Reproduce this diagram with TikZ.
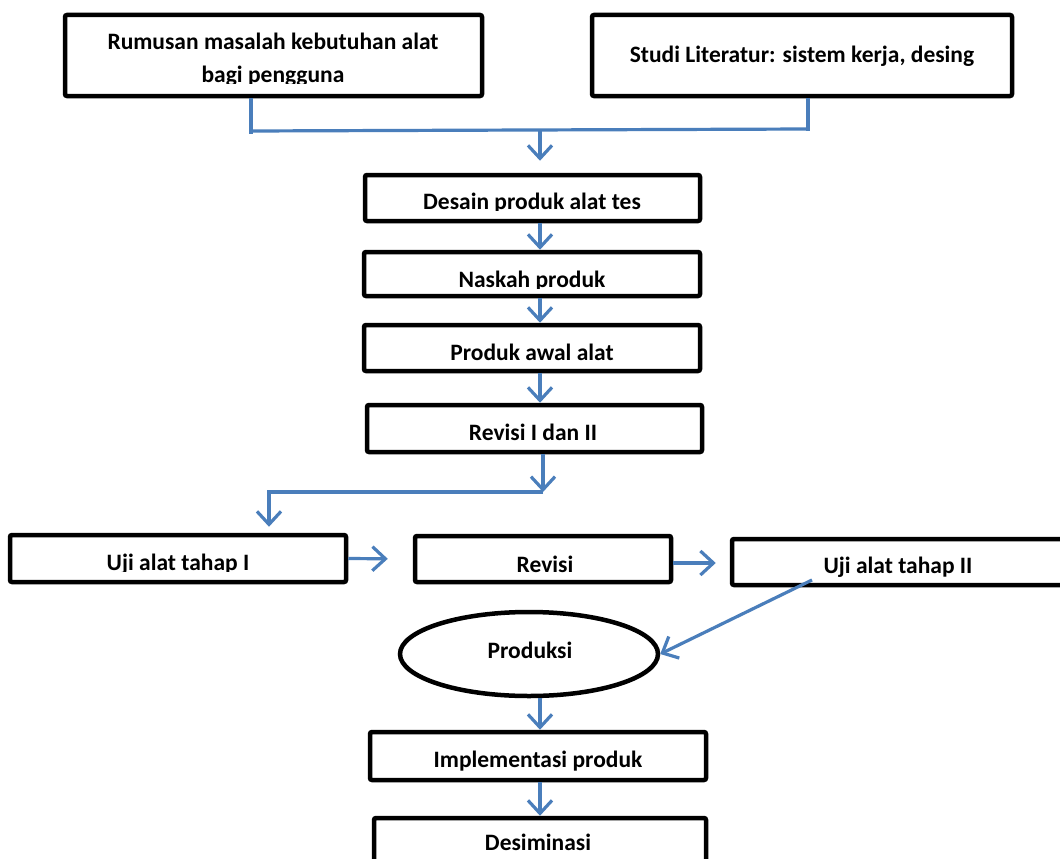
\documentclass[tikz,border=0pt]{standalone}
\usepackage{fontspec}
\setmainfont{Carlito}
\usetikzlibrary{arrows.meta,shapes.geometric}
\definecolor{lineblue}{HTML}{4A7EBB}
\begin{document}
\begin{tikzpicture}[x=1pt,y=-1pt,
  box/.style={draw=black,line width=4.5pt,rounded corners=2pt,inner sep=0pt,fill=white},
  oval/.style={ellipse,draw=black,line width=4.5pt,inner sep=0pt,fill=white},
  lbl/.style={font=\fontsize{23.5}{32}\selectfont\bfseries,inner sep=0pt,anchor=base},
  bl/.style={draw=lineblue,line width=3.2pt},
  arr/.style={bl,-{Straight Barb[length=13pt,width=24pt]}}]
\clip (0,0) rectangle (1060,859);
\fill[white] (0,0) rectangle (1060,859);

% boxes
\node[box,minimum width=417pt,minimum height=81pt] (r1) at (273.5,55.5) {};
\node[box,minimum width=420pt,minimum height=81pt] (r2) at (802,55.5) {};
\node[box,minimum width=335pt,minimum height=46pt] (r3) at (532.5,198) {};
\node[box,minimum width=336pt,minimum height=44pt] (r4) at (532,274) {};
\node[box,minimum width=336pt,minimum height=46pt] (r5) at (532,348) {};
\node[box,minimum width=335pt,minimum height=47pt] (r6) at (534.5,428.5) {};
\node[box,minimum width=336pt,minimum height=47pt] (r7) at (178,558.5) {};
\node[box,minimum width=256pt,minimum height=46pt] (r8) at (543,559) {};
\node[box,minimum width=346pt,minimum height=46pt] (r9) at (905,562) {};
\node[oval,minimum width=258pt,minimum height=84pt] (pr) at (529,654) {};
\node[box,minimum width=336pt,minimum height=48pt] (r10) at (538,756) {};
\node[box,minimum width=332pt,minimum height=50pt] (r11) at (540,843) {};

% labels
\node[lbl] (t1a) at (273,50) {Rumusan masalah kebutuhan alat};
\begin{scope}
  \clip (65,15) rectangle (482,83);
  \node[lbl] (t1b) at (273,82) {bagi pengguna};
\end{scope}
\node[lbl] (t2) at (802,63) {Studi Literatur: sistem kerja, desing};
\begin{scope}
  \clip (365,175) rectangle (700,210);
  \node[lbl] (t3) at (532,209) {Desain produk alat tes};
\end{scope}
\begin{scope}
  \clip (365,252) rectangle (700,288);
  \node[lbl] (t4) at (532,287) {Naskah produk};
\end{scope}
\node[lbl] (t5) at (532,360) {Produk awal alat};
\node[lbl] (t6) at (533,440) {Revisi I dan II};
\begin{scope}
  \clip (10,535) rectangle (346,571);
  \node[lbl] (t7) at (178,570) {Uji alat tahap I};
\end{scope}
\node[lbl] (t8) at (545,572) {Revisi};
\node[lbl] (t9) at (898,573) {Uji alat tahap II};
\node[lbl] (tp) at (530,658) {Produksi};
\begin{scope}
  \clip (370,732) rectangle (706,770);
  \node[lbl] (t10) at (538,767) {Implementasi produk};
\end{scope}
\begin{scope}
  \clip (374,818) rectangle (706,852);
  \node[lbl] (t11) at (538,850) {Desiminasi};
\end{scope}

% connector coordinates
\coordinate (ax) at (540,0);
\coordinate (jl) at (251,134);
\coordinate (jr) at (808,131);
\coordinate (hl) at (251,131);
\coordinate (hr) at (808,129);
\coordinate (jm) at (540,130);
\coordinate (kx) at (543,0);
\coordinate (k1) at (543,492);
\coordinate (k2) at (269,492);
\coordinate (d1) at (812,580);
\coordinate (hy) at (0,563);

% connectors
\draw[bl] (r1.south -| jl) -- (jl);
\draw[bl] (r2.south -| jr) -- (jr);
\draw[bl] (hl) -- (hr);
\draw[arr,shorten >=12pt] (jm) -- (r3.north -| jm);
\draw[arr] (r3.south -| ax) -- (r4.north -| ax);
\draw[arr] (r4.south -| ax) -- (r5.north -| ax);
\draw[arr] (r5.south -| ax) -- (r6.north -| ax);
\draw[arr] (r6.south -| kx) -- (k1);
\draw[arr,shorten >=6pt] (k1) -- (k2) -- (r7.north -| k2);
\draw[arr,shorten >=25pt] (r7.east) -- (r8.west);
\draw[arr,shorten >=14pt] (r8.east |- hy) -- (r9.west |- hy);
\draw[arr] (d1) -- (pr.east);
\draw[arr] (pr.south -| ax) -- (r10.north -| ax);
\draw[arr] (r10.south -| ax) -- (r11.north -| ax);
\end{tikzpicture}
\end{document}
